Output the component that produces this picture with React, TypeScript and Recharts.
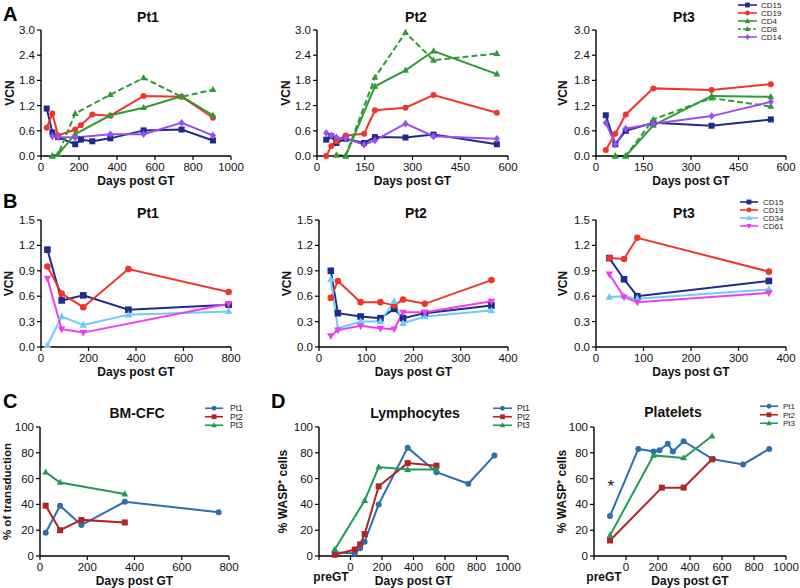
import React from 'react';
import { LineChart, Line, XAxis, YAxis, Legend, ReferenceDot } from 'recharts';

const FONT = '"Liberation Sans", Arial, Helvetica, sans-serif';

// colours
const C_CD15 = '#1f2a8c';
const C_CD19 = '#f2352c';
const C_CD4 = '#2f9a36';
const C_CD14 = '#9b4cf2';
const C_CD34 = '#6ccdf5';
const C_CD61 = '#f03cf0';
const C_PT1 = '#2b6fb0';
const C_PT2 = '#b32424';
const C_PT3 = '#22995a';

// ---- A: VCN in peripheral blood lineages ----
const A1_X = [30, 60, 90, 180, 210, 270, 365, 540, 740, 905];
const A1_CD15 = [1.13, 0.56, 0.45, 0.28, 0.39, 0.35, 0.42, 0.61, 0.63, 0.37];
const A1_CD19 = [0.67, 1.01, 0.49, 0.63, 0.73, 0.99, 0.96, 1.43, 1.41, 0.91];
const A1_T_X = [60, 90, 180, 365, 540, 740, 905];
const A1_CD4 = [0, 0.04, 0.52, 0.97, 1.15, 1.42, 0.97];
const A1_CD8 = [0, 0.04, 1.01, 1.46, 1.86, 1.41, 1.58];
const A1_CD14_X = [60, 90, 180, 365, 540, 740, 905];
const A1_CD14 = [0.47, 0.45, 0.44, 0.52, 0.52, 0.79, 0.49];

const A2_X = [29, 45, 61, 90, 148, 182, 278, 366, 565];
const A2_CD15 = [0.39, 0.47, 0.31, 0.41, 0.31, 0.45, 0.44, 0.51, 0.28];
const A2_CD19 = [0, 0.24, 0.35, 0.49, 0.53, 1.09, 1.15, 1.45, 1.03];
const A2_CD14 = [0.55, 0.49, 0.44, 0.42, 0.27, 0.37, 0.77, 0.47, 0.41];
const A2_T_X = [61, 90, 182, 278, 366, 565];
const A2_CD4 = [0.02, 0, 1.66, 2.04, 2.5, 1.95];
const A2_CD8 = [0.02, 0, 1.87, 2.94, 2.28, 2.44];

const A3_X = [31, 61, 94, 181, 365, 552];
const A3_CD15 = [0.97, 0.28, 0.6, 0.79, 0.72, 0.87];
const A3_CD19 = [0.14, 0.53, 0.99, 1.61, 1.57, 1.71];
const A3_CD14 = [0.79, 0.28, 0.65, 0.77, 0.95, 1.29];
const A3_T_X = [61, 94, 181, 365, 552];
const A3_CD4 = [0, 0, 0.73, 1.43, 1.41];
const A3_CD8 = [0, 0, 0.87, 1.38, 1.18];

// ---- B: VCN in bone marrow ----
const B1_X = [27, 87, 178, 368, 790];
const B1_CD15 = [1.15, 0.55, 0.61, 0.44, 0.5];
const B1_CD19 = [0.95, 0.63, 0.47, 0.92, 0.65];
const B1_CD34 = [0.02, 0.36, 0.26, 0.38, 0.42];
const B1_CD61_X = [27, 87, 178, 790];
const B1_CD61 = [0.81, 0.21, 0.17, 0.51];

const B2_X = [25, 40, 88, 130, 159, 178, 224, 365];
const B2_CD15 = [0.9, 0.4, 0.36, 0.34, 0.45, 0.34, 0.4, 0.49];
const B2_CD19 = [0.58, 0.78, 0.53, 0.53, 0.49, 0.56, 0.51, 0.79];
const B2_CD34 = [0.8, 0.22, 0.3, 0.3, 0.54, 0.28, 0.36, 0.43];
const B2_CD61 = [0.13, 0.2, 0.25, 0.22, 0.21, 0.41, 0.41, 0.54];

const B3_X = [28, 59, 87, 364];
const B3_CD15 = [1.05, 0.8, 0.6, 0.78];
const B3_CD19 = [1.05, 1.04, 1.29, 0.89];
const B3_CD34 = [0.59, 0.6, 0.57, 0.68];
const B3_CD61 = [0.86, 0.59, 0.53, 0.64];

// ---- C: BM-CFC ----
const C_PT1_X = [24, 85, 175, 359, 756];
const C_PT1_Y = [18, 39, 24, 42, 34];
const C_PT2_X = [24, 85, 175, 359];
const C_PT2_Y = [39, 20, 28, 26];
const C_PT3_X = [24, 85, 359];
const C_PT3_Y = [65, 57, 48];

// ---- D: WASP+ cells (preGT plotted at -100) ----
const PRE = -100;
const L_PT1_X = [PRE, 27, 61, 90, 179, 363, 546, 748, 914];
const L_PT1_Y = [3, 2, 6, 11, 40, 84, 65, 56, 78];
const L_PT2_X = [PRE, 27, 61, 90, 179, 363, 546];
const L_PT2_Y = [1, 5, 9, 17, 54, 72, 70];
const L_PT3_X = [PRE, 90, 179, 363, 546];
const L_PT3_Y = [5, 43, 69, 67, 67];

const P_PT1_X = [PRE, 77, 172, 209, 261, 293, 360, 544, 732, 895];
const P_PT1_Y = [31, 83, 81, 82, 87, 81, 89, 75, 71, 83];
const P_PT2_X = [PRE, 224, 360, 538];
const P_PT2_Y = [12, 53, 53, 75];
const P_PT3_X = [PRE, 172, 360, 538];
const P_PT3_Y = [16, 78, 76, 93];

// ticks
const VCN3_TICKS = [0, 0.6, 1.2, 1.8, 2.4, 3.0];
const VCN15_TICKS = [0, 0.3, 0.6, 0.9, 1.2, 1.5];
const PCT_TICKS = [0, 20, 40, 60, 80, 100];
const X1000 = [0, 200, 400, 600, 800, 1000];
const X800 = [0, 200, 400, 600, 800];
const X600 = [0, 150, 300, 450, 600];
const X400 = [0, 100, 200, 300, 400];
const XPRE = [-200, 0, 200, 400, 600, 800, 1000];

type Shape = 'square' | 'circle' | 'tri' | 'diamond' | 'tridown';
type Series = { name: string; xs: number[]; ys: number[]; color: string; shape: Shape; dashed?: boolean };

const pts = (xs: number[], ys: number[]) => xs.map((x, i) => ({ x, y: ys[i] }));

function marker(shape: Shape, color: string, cx: number, cy: number, s: number, key?: any) {
  switch (shape) {
    case 'square':
      return <rect key={key} x={cx - s} y={cy - s} width={2 * s} height={2 * s} fill={color} />;
    case 'circle':
      return <circle key={key} cx={cx} cy={cy} r={s} fill={color} />;
    case 'tri':
      return <polygon key={key} points={`${cx},${cy - s * 1.25} ${cx - s * 1.15},${cy + s * 0.8} ${cx + s * 1.15},${cy + s * 0.8}`} fill={color} />;
    case 'tridown':
      return <polygon key={key} points={`${cx},${cy + s * 1.25} ${cx - s * 1.15},${cy - s * 0.8} ${cx + s * 1.15},${cy - s * 0.8}`} fill={color} />;
    default:
      return <polygon key={key} points={`${cx},${cy - s * 1.3} ${cx + s},${cy} ${cx},${cy + s * 1.3} ${cx - s},${cy}`} fill={color} />;
  }
}

const makeDot = (shape: Shape, color: string, s: number) => (props: any) => {
  const { cx, cy, index } = props;
  if (cx == null || cy == null) return <g key={index} />;
  return marker(shape, color, cx, cy, s, index);
};

const A_SERIES = (x: number[], tx: number[], x14: number[], cd15: number[], cd19: number[], cd4: number[], cd8: number[], cd14: number[]): Series[] => [
  { name: 'CD15', xs: x, ys: cd15, color: C_CD15, shape: 'square' },
  { name: 'CD19', xs: x, ys: cd19, color: C_CD19, shape: 'circle' },
  { name: 'CD4', xs: tx, ys: cd4, color: C_CD4, shape: 'tri' },
  { name: 'CD8', xs: tx, ys: cd8, color: C_CD4, shape: 'tri', dashed: true },
  { name: 'CD14', xs: x14, ys: cd14, color: C_CD14, shape: 'diamond' },
];

const B_SERIES = (x: number[], x61: number[], cd15: number[], cd19: number[], cd34: number[], cd61: number[]): Series[] => [
  { name: 'CD15', xs: x, ys: cd15, color: C_CD15, shape: 'square' },
  { name: 'CD19', xs: x, ys: cd19, color: C_CD19, shape: 'circle' },
  { name: 'CD34', xs: x, ys: cd34, color: C_CD34, shape: 'tri' },
  { name: 'CD61', xs: x61, ys: cd61, color: C_CD61, shape: 'tridown' },
];

type LegendCfg = { x: number; y: number; rowH: number; lineW: number; gap: number; font: number };

type PanelProps = {
  box: [number, number, number, number];
  xDomain: [number, number];
  xTicks: number[];
  yDomain: [number, number];
  yTicks: number[];
  yFmt: (v: number) => string;
  yLabel: string;
  yLabelDx: number;
  yLabelSize?: number;
  series: Series[];
  dotSize: number;
  legend?: LegendCfg;
  pre?: { dx: number; dy: number };
  star?: { x: number; y: number };
};

const MT = 30;
const MR = 20;
const YW = 48;
const XH = 34;

function Panel(p: PanelProps) {
  const [x0, x1, y0, y1] = p.box;
  const left = x0 - YW;
  const top = y0 - MT;
  const width = x1 - x0 + YW + MR;
  const height = y1 - y0 + MT + XH;

  const xTick = (props: any) => {
    const { x, y, payload } = props;
    if (p.pre && payload.value === -200) {
      return (
        <text x={x + p.pre.dx} y={y + p.pre.dy} textAnchor="middle" fontSize={12} fontWeight="bold" fontFamily={FONT} fill="#111">
          preGT
        </text>
      );
    }
    return (
      <text x={x} y={y} dy="0.75em" textAnchor="middle" fontSize={11.5} fontFamily={FONT} fill="#111">
        {payload.value}
      </text>
    );
  };

  const legendContent = () => {
    if (!p.legend) return null;
    const L = p.legend;
    return (
      <svg width={L.lineW + L.gap + 36} height={p.series.length * L.rowH + 4} style={{ display: 'block', overflow: 'visible' }}>
        {p.series.map((s, i) => {
          const cy = i * L.rowH + L.rowH / 2;
          return (
            <g key={s.name}>
              <line x1={0} x2={L.lineW} y1={cy} y2={cy} stroke={s.color} strokeWidth={1.6} strokeDasharray={s.dashed ? '3 2' : undefined} />
              {marker(s.shape, s.color, L.lineW / 2, cy, 2.4)}
              <text x={L.lineW + L.gap} y={cy} dy="0.35em" fontSize={L.font} fontFamily={FONT} fill="#222">
                {s.name}
              </text>
            </g>
          );
        })}
      </svg>
    );
  };

  return (
    <div style={{ position: 'absolute', left, top }}>
      <LineChart width={width} height={height} margin={{ top: MT, right: MR, left: 0, bottom: 0 }}>
        <XAxis
          dataKey="x"
          type="number"
          domain={p.xDomain}
          ticks={p.xTicks}
          interval={0}
          height={XH}
          axisLine={{ stroke: '#000', strokeWidth: 1.4 }}
          tickLine={{ stroke: '#000', strokeWidth: 1.2 }}
          tickSize={4}
          tickMargin={2}
          tick={xTick}
          label={{ value: 'Days post GT', position: 'insideBottom', offset: 5, fontSize: 12, fontWeight: 'bold', fontFamily: FONT, fill: '#111' }}
        />
        <YAxis
          type="number"
          domain={p.yDomain}
          ticks={p.yTicks}
          interval={0}
          width={YW}
          axisLine={{ stroke: '#000', strokeWidth: 1.4 }}
          tickLine={{ stroke: '#000', strokeWidth: 1.2 }}
          tickSize={4}
          tickMargin={2}
          tickFormatter={p.yFmt}
          tick={{ fontSize: 11.5, fontFamily: FONT, fill: '#111' }}
          label={{ value: p.yLabel, angle: -90, position: 'center', dx: p.yLabelDx, fontSize: p.yLabelSize ?? 12, fontWeight: 'bold', fontFamily: FONT, fill: '#111' }}
        />
        {p.series.map((s) => (
          <Line
            key={s.name}
            data={pts(s.xs, s.ys)}
            dataKey="y"
            type="linear"
            stroke={s.color}
            strokeWidth={2}
            strokeDasharray={s.dashed ? '6 3' : undefined}
            dot={makeDot(s.shape, s.color, p.dotSize)}
            activeDot={false}
            isAnimationActive={false}
          />
        ))}
        {p.star && (
          <ReferenceDot x={p.star.x} y={p.star.y} r={1} fill="none" stroke="none"
            label={{ value: '*', position: 'center', fontSize: 17, fontFamily: FONT, fill: '#111' }} />
        )}
        {p.legend && (
          <Legend
            layout="vertical"
            align="center"
            verticalAlign="middle"
            content={legendContent}
            wrapperStyle={{ left: p.legend.x - left, top: p.legend.y - top, width: 70 }}
          />
        )}
      </LineChart>
    </div>
  );
}

const vcnFmt = (v: number) => v.toFixed(1);
const intFmt = (v: number) => String(v);

function Title({ text, cx, cy, size = 14 }: { text: string; cx: number; cy: number; size?: number }) {
  return (
    <div style={{ position: 'absolute', left: cx - 70, top: cy - size * 0.6, width: 140, textAlign: 'center', fontFamily: FONT, fontWeight: 'bold', fontSize: size, lineHeight: `${size * 1.2}px`, color: '#111' }}>
      {text}
    </div>
  );
}

function Letter({ text, x, y }: { text: string; x: number; y: number }) {
  return (
    <div style={{ position: 'absolute', left: x, top: y, fontFamily: FONT, fontWeight: 'bold', fontSize: 20, lineHeight: '20px', color: '#000' }}>
      {text}
    </div>
  );
}

const PT_SERIES = (a: [number[], number[]], b: [number[], number[]], c: [number[], number[]]): Series[] => [
  { name: 'Pt1', xs: a[0], ys: a[1], color: C_PT1, shape: 'circle' },
  { name: 'Pt2', xs: b[0], ys: b[1], color: C_PT2, shape: 'square' },
  { name: 'Pt3', xs: c[0], ys: c[1], color: C_PT3, shape: 'tri' },
];

export default function App() {
  const aLegend = { x: 738, y: 1, rowH: 8, lineW: 19, gap: 4, font: 8 };
  const bLegend = { x: 740, y: 198, rowH: 8, lineW: 18, gap: 5, font: 8 };
  return (
    <div style={{ position: 'absolute', left: 0, top: 0, width: 800, height: 588, overflow: 'hidden', background: '#fff' }}>
      <Letter text="A" x={3} y={4} />
      <Letter text="B" x={3} y={191} />
      <Letter text="C" x={3} y={391} />
      <Letter text="D" x={271} y={391} />

      <Title text="Pt1" cx={148} cy={17} />
      <Title text="Pt2" cx={416} cy={17} />
      <Title text="Pt3" cx={684} cy={17} />
      <Title text="Pt1" cx={148} cy={213} />
      <Title text="Pt2" cx={416} cy={213} />
      <Title text="Pt3" cx={684} cy={213} />
      <Title text="BM-CFC" cx={137} cy={413} />
      <Title text="Lymphocytes" cx={415} cy={413} />
      <Title text="Platelets" cx={673} cy={412} />

      <Panel box={[41, 231, 30, 156]} xDomain={[0, 1000]} xTicks={X1000} yDomain={[0, 3]} yTicks={VCN3_TICKS} yFmt={vcnFmt}
        yLabel="VCN" yLabelDx={-7} dotSize={3}
        series={A_SERIES(A1_X, A1_T_X, A1_CD14_X, A1_CD15, A1_CD19, A1_CD4, A1_CD8, A1_CD14)} />
      <Panel box={[317, 508, 30, 156]} xDomain={[0, 600]} xTicks={X600} yDomain={[0, 3]} yTicks={VCN3_TICKS} yFmt={vcnFmt}
        yLabel="VCN" yLabelDx={-7} dotSize={3}
        series={A_SERIES(A2_X, A2_T_X, A2_X, A2_CD15, A2_CD19, A2_CD4, A2_CD8, A2_CD14)} />
      <Panel box={[596, 786, 30, 156]} xDomain={[0, 600]} xTicks={X600} yDomain={[0, 3]} yTicks={VCN3_TICKS} yFmt={vcnFmt}
        yLabel="VCN" yLabelDx={-9} dotSize={3} legend={aLegend}
        series={A_SERIES(A3_X, A3_T_X, A3_X, A3_CD15, A3_CD19, A3_CD4, A3_CD8, A3_CD14)} />

      <Panel box={[41, 231, 220, 347]} xDomain={[0, 800]} xTicks={X800} yDomain={[0, 1.5]} yTicks={VCN15_TICKS} yFmt={vcnFmt}
        yLabel="VCN" yLabelDx={-8} dotSize={3.3}
        series={B_SERIES(B1_X, B1_CD61_X, B1_CD15, B1_CD19, B1_CD34, B1_CD61)} />
      <Panel box={[319, 508, 220, 347]} xDomain={[0, 400]} xTicks={X400} yDomain={[0, 1.5]} yTicks={VCN15_TICKS} yFmt={vcnFmt}
        yLabel="VCN" yLabelDx={-8} dotSize={3.3}
        series={B_SERIES(B2_X, B2_X, B2_CD15, B2_CD19, B2_CD34, B2_CD61)} />
      <Panel box={[596, 786, 220, 347]} xDomain={[0, 400]} xTicks={X400} yDomain={[0, 1.5]} yTicks={VCN15_TICKS} yFmt={vcnFmt}
        yLabel="VCN" yLabelDx={-9} dotSize={3.3} legend={bLegend}
        series={B_SERIES(B3_X, B3_X, B3_CD15, B3_CD19, B3_CD34, B3_CD61)} />

      <Panel box={[40, 229, 427, 556]} xDomain={[0, 800]} xTicks={X800} yDomain={[0, 100]} yTicks={PCT_TICKS} yFmt={intFmt}
        yLabel="% of transduction" yLabelDx={-9} yLabelSize={11.5} dotSize={3}
        legend={{ x: 205, y: 404, rowH: 8.5, lineW: 18, gap: 7, font: 8.5 }}
        series={PT_SERIES([C_PT1_X, C_PT1_Y], [C_PT2_X, C_PT2_Y], [C_PT3_X, C_PT3_Y])} />
      <Panel box={[319, 508, 427, 556]} xDomain={[-200, 1000]} xTicks={XPRE} yDomain={[0, 100]} yTicks={PCT_TICKS} yFmt={intFmt}
        yLabel="% WASP⁺ cells" yLabelDx={-12} dotSize={3} pre={{ dx: 12, dy: 19 }}
        legend={{ x: 493, y: 404, rowH: 8.5, lineW: 19, gap: 5, font: 8.5 }}
        series={PT_SERIES([L_PT1_X, L_PT1_Y], [L_PT2_X, L_PT2_Y], [L_PT3_X, L_PT3_Y])} />
      <Panel box={[594, 786, 427, 556]} xDomain={[-200, 1000]} xTicks={XPRE} yDomain={[0, 100]} yTicks={PCT_TICKS} yFmt={intFmt}
        yLabel="% WASP⁺ cells" yLabelDx={-8} dotSize={3} pre={{ dx: 10, dy: 19 }} star={{ x: -95, y: 54 }}
        legend={{ x: 760, y: 402, rowH: 8.5, lineW: 18, gap: 5, font: 8 }}
        series={PT_SERIES([P_PT1_X, P_PT1_Y], [P_PT2_X, P_PT2_Y], [P_PT3_X, P_PT3_Y])} />
    </div>
  );
}
